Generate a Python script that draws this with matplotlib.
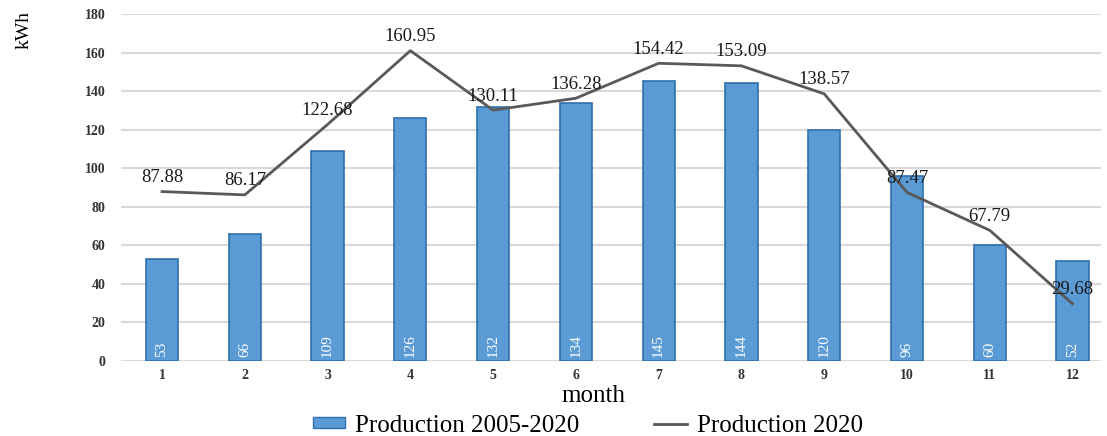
import matplotlib.pyplot as plt
from matplotlib.lines import Line2D
from matplotlib.patches import Patch

# monthly production values
months = [1, 2, 3, 4, 5, 6, 7, 8, 9, 10, 11, 12]
prod_avg = [53, 66, 109, 126, 132, 134, 145, 144, 120, 96, 60, 52]
prod_2020 = [87.88, 86.17, 122.68, 160.95, 130.11, 136.28, 154.42, 153.09, 138.57, 87.47, 67.79, 29.68]
yticks = [0, 20, 40, 60, 80, 100, 120, 140, 160, 180]

plt.rcParams['font.family'] = ['Liberation Serif', 'DejaVu Serif']

fig = plt.figure(figsize=(11.07, 4.36), dpi=100)
ax = fig.add_axes([0.109, 0.172, 0.886, 0.796])

ax.bar(months, prod_avg, width=0.39, color='#5b9bd5', edgecolor='#2f6fae',
       linewidth=1.2, zorder=3)
ax.plot(months, prod_2020, color='#595959', linewidth=2, zorder=4)

for m, v in zip(months, prod_avg):
    ax.text(m, 2, str(v), rotation=90, color='white', fontsize=11,
            ha='center', va='bottom', zorder=5)

for m, v in zip(months, prod_2020):
    ax.annotate('%.2f' % v, (m, v), xytext=(0, 10), textcoords='offset points',
                ha='center', va='center', fontsize=13.5, color='#1a1a1a', zorder=6)

ax.set_xlim(0.5, 12.35)
ax.set_ylim(0, 180)
ax.set_yticks(yticks)
ax.set_xticks(months)
ax.tick_params(length=0, labelsize=10, colors='#333333')
ax.tick_params(axis='y', pad=11)
ax.tick_params(axis='x', pad=6)
for lbl in ax.get_xticklabels() + ax.get_yticklabels():
    lbl.set_fontweight('bold')
ax.grid(axis='y', color='#d9d9d9', linewidth=1.5, zorder=0)
for s in ax.spines.values():
    s.set_visible(False)

fig.text(0.022, 0.931, 'kWh', rotation=90, fontsize=14, ha='center', va='center')
fig.text(0.536, 0.092, 'month', fontsize=18, ha='center', va='center')

handles = [Patch(facecolor='#5b9bd5', edgecolor='#2f6fae'),
           Line2D([0], [0], color='#595959', linewidth=2)]
fig.legend(handles, ['Production 2005-2020', 'Production 2020'], loc='center',
           bbox_to_anchor=(0.531, 0.024), ncol=2, frameon=False, fontsize=18,
           handlelength=1.3, handleheight=0.35, handletextpad=0.4,
           columnspacing=3, borderaxespad=0)

fig.savefig('out.png', dpi=100)
